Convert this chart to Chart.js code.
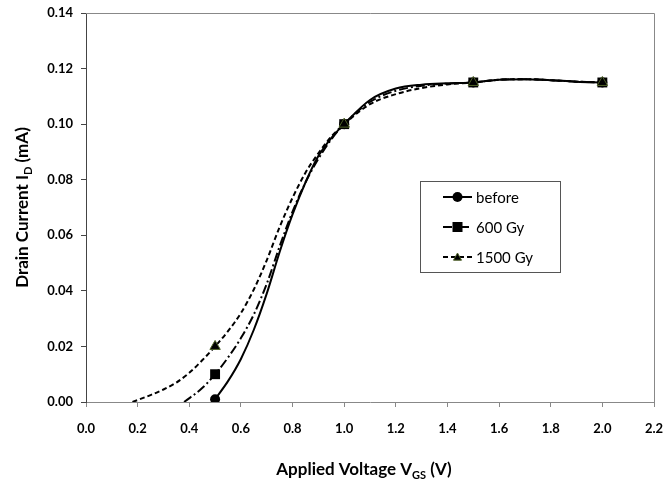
<!DOCTYPE html>
<html lang="en">
<head>
    <title>Drain Current vs Applied Voltage</title>
    <meta charset="utf-8">
    <script src="https://cdn.jsdelivr.net/npm/chart.js"></script>
    <style>
        html, body { margin: 0; padding: 0; background: #fff; }
        #wrap { width: 663px; height: 482px; }
    </style>
</head>
<body>
<div id="wrap"><canvas id="id-chart" width="663" height="482"></canvas></div>

<script>
// measured points (markers)
var measuredV = [0.5, 1.0, 1.5, 2.0];

// before irradiation
var beforeV = [0.5, 0.55, 0.6, 0.65, 0.7, 0.75, 0.8, 0.85, 0.9, 0.95, 1.0, 1.1, 1.2, 1.3, 1.4, 1.5, 1.6, 1.7, 1.8, 1.9, 2.0];
var beforeI = [0.001, 0.0075, 0.0155, 0.026, 0.039, 0.054, 0.0675, 0.079, 0.0885, 0.095, 0.100, 0.1087, 0.1128, 0.1142, 0.1147, 0.115, 0.1160, 0.1162, 0.1158, 0.1153, 0.115];

// 600 Gy
var gy600V = [0.38, 0.45, 0.5, 0.55, 0.6, 0.65, 0.7, 0.75, 0.8, 0.85, 0.9, 0.95, 1.0, 1.1, 1.2, 1.3, 1.4, 1.5, 1.6, 1.7, 1.8, 1.9, 2.0];
var gy600I = [0, 0.005, 0.010, 0.016, 0.023, 0.0315, 0.0425, 0.056, 0.0685, 0.079, 0.0875, 0.0945, 0.100, 0.1080, 0.1120, 0.1138, 0.1146, 0.115, 0.1160, 0.1162, 0.1158, 0.1153, 0.115];

// 1500 Gy
var gy1500V = [0.18, 0.25, 0.3, 0.35, 0.4, 0.45, 0.5, 0.55, 0.6, 0.65, 0.7, 0.75, 0.8, 0.85, 0.9, 0.95, 1.0, 1.1, 1.2, 1.3, 1.4, 1.5, 1.6, 1.7, 1.8, 1.9, 2.0];
var gy1500I = [0, 0.0025, 0.0045, 0.007, 0.0105, 0.015, 0.020, 0.0255, 0.032, 0.0405, 0.051, 0.063, 0.0735, 0.0825, 0.0895, 0.0955, 0.100, 0.1072, 0.1108, 0.1130, 0.1143, 0.115, 0.1160, 0.1162, 0.1158, 0.1153, 0.115];

var seriesNames = ["before", "600 Gy", "1500 Gy"];

function toPoints(xs, ys) {
  return xs.map(function (x, i) { return { x: x, y: ys[i] }; });
}
function markerSizes(xs, r) {
  return xs.map(function (x) { return measuredV.indexOf(x) >= 0 ? r : 0; });
}

var FONT = "Lato, 'Open Sans', sans-serif";

function drawMarker(ctx, style, x, y, r) {
  ctx.save();
  ctx.fillStyle = "#000";
  ctx.setLineDash([]);
  if (style == "circle") {
    ctx.beginPath();
    ctx.arc(x, y, r, 0, Math.PI * 2);
    ctx.fill();
  } else if (style == "rect") {
    ctx.fillRect(x - r, y - r, r * 2, r * 2);
  } else {
    ctx.strokeStyle = "#4f6228";
    ctx.lineWidth = 1;
    ctx.beginPath();
    ctx.moveTo(x, y - r);
    ctx.lineTo(x + r, y + r * 0.8);
    ctx.lineTo(x - r, y + r * 0.8);
    ctx.closePath();
    ctx.fill();
    ctx.stroke();
  }
  ctx.restore();
}

// text with a subscript part: parts = [[text, sub?], ...]
function richWidth(ctx, parts, big, small) {
  var w = 0;
  parts.forEach(function (p) {
    ctx.font = "bold " + (p[1] ? small : big) + "px " + FONT;
    w += ctx.measureText(p[0]).width;
  });
  return w;
}
function drawRich(ctx, parts, x, y, big, small) {
  var cx = x;
  parts.forEach(function (p) {
    ctx.font = "bold " + (p[1] ? small : big) + "px " + FONT;
    ctx.fillText(p[0], cx, p[1] ? y + 4 : y);
    cx += ctx.measureText(p[0]).width;
  });
}

var extras = {
  id: "extras",
  afterDraw: function (chart) {
    var ctx = chart.ctx;
    var a = chart.chartArea;
    ctx.save();

    // plot area frame (top and right)
    ctx.strokeStyle = "#888";
    ctx.lineWidth = 1;
    ctx.beginPath();
    ctx.moveTo(a.left, a.top + 0.5);
    ctx.lineTo(a.right + 0.5, a.top + 0.5);
    ctx.lineTo(a.right + 0.5, a.bottom);
    ctx.stroke();

    // axis titles
    ctx.fillStyle = "#000";
    ctx.textBaseline = "alphabetic";
    var xt = [["Applied Voltage V", false], ["GS", true], [" (V)", false]];
    var wx = richWidth(ctx, xt, 17, 11);
    drawRich(ctx, xt, 364 - wx / 2, 475, 17, 11);

    var yt = [["Drain Current I", false], ["D", true], [" (mA)", false]];
    var wy = richWidth(ctx, yt, 17, 11);
    ctx.translate(28, (a.top + a.bottom) / 2);
    ctx.rotate(-Math.PI / 2);
    drawRich(ctx, yt, -wy / 2, 0, 17, 11);
    ctx.restore();

    // legend
    ctx.save();
    ctx.fillStyle = "#fff";
    ctx.fillRect(420.5, 181.5, 140, 91);
    ctx.strokeStyle = "#555";
    ctx.lineWidth = 1;
    ctx.strokeRect(420.5, 181.5, 140, 91);
    var rows = [197, 227, 257];
    chart.data.datasets.forEach(function (ds, i) {
      var y = rows[i];
      ctx.strokeStyle = "#000";
      ctx.lineWidth = 2;
      ctx.setLineDash(ds.borderDash || []);
      ctx.beginPath();
      ctx.moveTo(443, y);
      ctx.lineTo(472, y);
      ctx.stroke();
      drawMarker(ctx, ds.pointStyle, 457.5, y, i == 2 ? 4 : 5);
      ctx.fillStyle = "#000";
      ctx.font = "15px " + FONT;
      ctx.textBaseline = "middle";
      ctx.fillText(ds.label, 476, y + 1);
    });
    ctx.restore();
  }
};

new Chart(document.getElementById("id-chart"), {
  type: "line",
  data: {
    datasets: [{
      label: seriesNames[0],
      data: toPoints(beforeV, beforeI),
      order: 3,
      borderColor: "#000",
      backgroundColor: "#000",
      borderWidth: 2,
      pointStyle: "circle",
      pointRadius: markerSizes(beforeV, 5),
      pointBorderWidth: 0,
      cubicInterpolationMode: "monotone"
    }, {
      label: seriesNames[1],
      data: toPoints(gy600V, gy600I),
      order: 2,
      borderColor: "#000",
      backgroundColor: "#000",
      borderWidth: 2,
      borderDash: [9, 3, 2, 3],
      pointStyle: "rect",
      pointRadius: markerSizes(gy600V, 7),
      pointBorderWidth: 0,
      cubicInterpolationMode: "monotone"
    }, {
      label: seriesNames[2],
      data: toPoints(gy1500V, gy1500I),
      order: 1,
      borderColor: "#000",
      backgroundColor: "#000",
      borderWidth: 2,
      borderDash: [5, 3],
      pointStyle: "triangle",
      pointRadius: markerSizes(gy1500V, 6),
      pointBorderColor: "#4f6228",
      pointBorderWidth: 1,
      cubicInterpolationMode: "monotone"
    }]
  },
  options: {
    responsive: false,
    animation: false,
    layout: { padding: { top: 13, right: 9, left: 0, bottom: 0 } },
    plugins: {
      legend: { display: false },
      tooltip: { enabled: false }
    },
    scales: {
      x: {
        type: "linear",
        min: 0,
        max: 2.2,
        afterFit: function (s) { s.height = 80; s.paddingLeft = 0; s.paddingRight = 0; },
        ticks: {
          stepSize: 0.2,
          padding: 14,
          color: "#000",
          font: { family: FONT, size: 13, weight: "bold" },
          callback: function (v) { return v.toFixed(1); }
        },
        grid: { drawOnChartArea: false, tickLength: 5, color: "#888" },
        border: { color: "#888" }
      },
      y: {
        min: 0,
        max: 0.14,
        afterFit: function (s) { s.width = 86; s.paddingTop = 0; s.paddingBottom = 0; },
        ticks: {
          stepSize: 0.02,
          padding: 8,
          color: "#000",
          font: { family: FONT, size: 13, weight: "bold" },
          callback: function (v) { return v.toFixed(2); }
        },
        grid: { drawOnChartArea: false, tickLength: 5, color: "#444" },
        border: { color: "#444" }
      }
    }
  },
  plugins: [extras]
});
</script>
</body>
</html>
